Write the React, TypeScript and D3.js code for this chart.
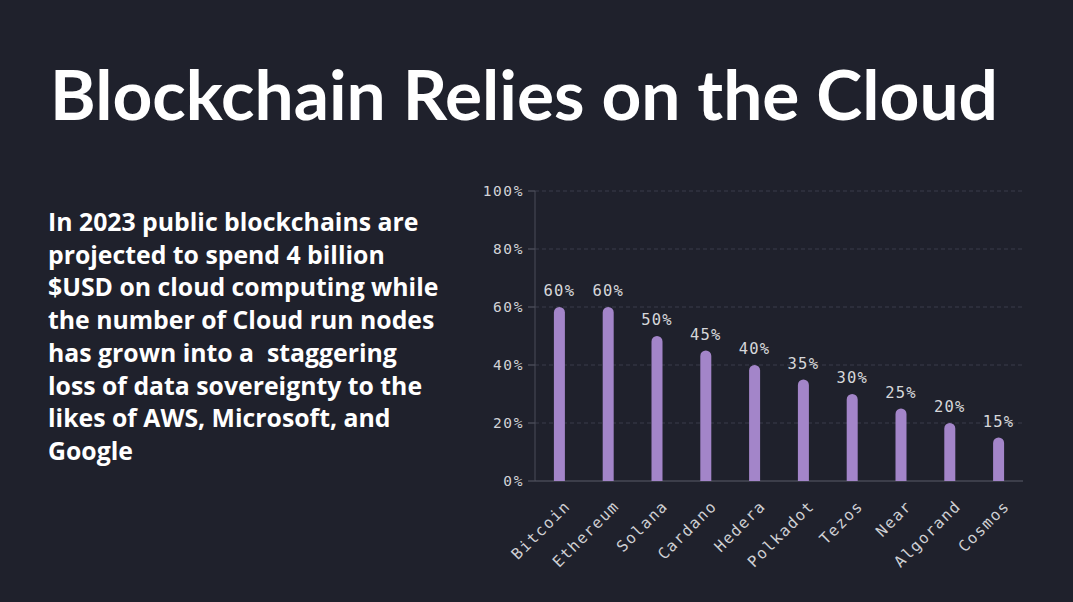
import React from "react";
import * as d3 from "d3";

const categories = ["Bitcoin", "Ethereum", "Solana", "Cardano", "Hedera", "Polkadot", "Tezos", "Near", "Algorand", "Cosmos"];
const values = [60, 60, 50, 45, 40, 35, 30, 25, 20, 15];
const yTicks = [0, 20, 40, 60, 80, 100];
const title = "Blockchain Relies on the Cloud";
const paragraph = [
  "In 2023 public blockchains are",
  "projected to spend 4 billion",
  "$USD on cloud computing while",
  "the number of Cloud run nodes",
  "has grown into a  staggering",
  "loss of data sovereignty to the",
  "likes of AWS, Microsoft, and",
  "Google",
];

const W = 1073;
const H = 602;
const BG = "#1f212c";
const BAR = "#a385c9";
const MONO = "'DejaVu Sans Mono', 'Liberation Mono', monospace";
const SANS = "Lato, 'Open Sans', 'Noto Sans', sans-serif";
const PARA = "'Open Sans', 'Noto Sans', sans-serif";

export default function App() {
  const x = d3.scaleBand<string>().domain(categories).range([535, 1023]).padding(0);
  const y = d3.scaleLinear().domain([0, 100]).range([481, 191]);
  const barW = 11;

  return (
    <svg width={W} height={H} style={{ position: "absolute", left: 0, top: 0, display: "block" }}>
      <rect x={0} y={0} width={W} height={H} fill={BG} />
      <text
        x={50}
        y={120}
        fill="#ffffff"
        fontFamily={SANS}
        fontWeight={700}
        fontSize={68}
        textLength={948}
        lengthAdjust="spacingAndGlyphs"
      >
        {title}
      </text>
      {paragraph.map((line, i) => (
        <text
          key={i}
          x={48}
          y={231 + i * 32.7}
          fill="#ffffff"
          fontFamily={PARA}
          fontWeight={700}
          fontSize={24.8}
          style={{ whiteSpace: "pre" }}
        >
          {line}
        </text>
      ))}
      {yTicks.map((t) => (
        <g key={t}>
          {t > 0 && (
            <line x1={535} x2={1023} y1={y(t)} y2={y(t)} stroke="#3a3d4a" strokeWidth={1} strokeDasharray="4,3" />
          )}
          <line x1={528} x2={535} y1={y(t)} y2={y(t)} stroke="#5a5d68" strokeWidth={1} />
          <text
            x={524}
            y={y(t)}
            dy="0.35em"
            textAnchor="end"
            fill="#d2d3d7"
            fontFamily={MONO}
            fontSize={14.5}
            letterSpacing={1.6}
          >
            {t}%
          </text>
        </g>
      ))}
      <line x1={535} x2={535} y1={y(100)} y2={y(0)} stroke="#4a4d58" strokeWidth={1} />
      <line x1={535} x2={1023} y1={y(0)} y2={y(0)} stroke="#5a5d68" strokeWidth={1} />
      {categories.map((c, i) => {
        const cx = (x(c) as number) + x.bandwidth() / 2;
        const top = y(values[i]);
        return (
          <g key={c}>
            <path
              d={`M${cx - barW / 2},${y(0)} V${top + barW / 2} A${barW / 2},${barW / 2} 0 0 1 ${cx + barW / 2},${top + barW / 2} V${y(0)} Z`}
              fill={BAR}
            />
            <text
              x={cx}
              y={top - 11}
              textAnchor="middle"
              fill="#d6d7da"
              fontFamily={MONO}
              fontSize={15.5}
              letterSpacing={1.2}
            >
              {values[i]}%
            </text>
            <text
              transform={`translate(${cx + 12},${y(0) + 26}) rotate(-45)`}
              textAnchor="end"
              fill="#cfd0d4"
              fontFamily={MONO}
              fontSize={15.5}
              letterSpacing={1.5}
            >
              {c}
            </text>
          </g>
        );
      })}
    </svg>
  );
}
